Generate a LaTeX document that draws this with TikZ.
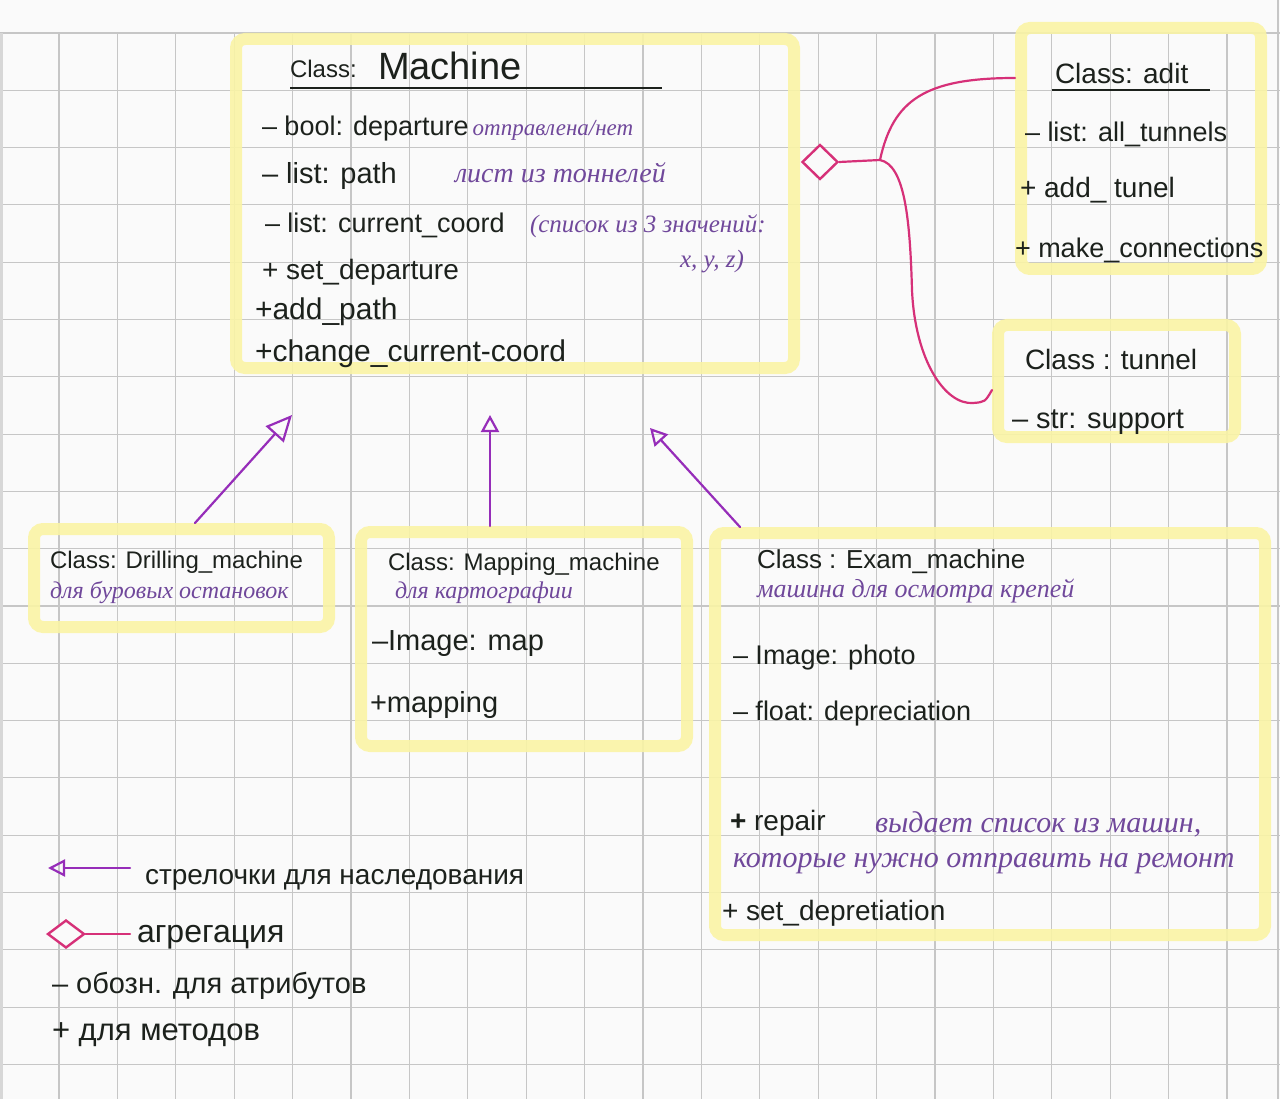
\documentclass[tikz,border=0pt]{standalone}
\usepackage{fontspec}
\setmainfont{Liberation Sans}
\newfontfamily\annf{Liberation Serif}
\usetikzlibrary{arrows.meta,shapes.geometric}
\definecolor{ink}{RGB}{28,33,28}
\definecolor{annc}{RGB}{112,72,155}
\definecolor{inhc}{RGB}{150,45,185}
\definecolor{aggc}{RGB}{214,48,120}
\definecolor{yel}{RGB}{250,244,165}
\definecolor{gridc}{RGB}{198,198,198}
\definecolor{bgc}{RGB}{250,250,250}
\newcommand\fs[1]{\fontsize{#1}{#1}\selectfont}
\begin{document}
\begin{tikzpicture}[x=1pt,y=-1pt,
  ybox/.style={draw=yel, line width=12pt, rounded corners=9pt, draw opacity=0.9, inner sep=0, rectangle},
  tx/.style={anchor=base west, inner sep=0, outer sep=0, text=ink, font=\fs{27}},
  hd/.style={tx, font=\fs{24}},
  an/.style={tx, text=annc, font=\annf\itshape\fs{24}},
  anb/.style={tx, text=annc, font=\annf\itshape\fs{30}},
  lg/.style={tx, font=\fs{28}},
  gridl/.style={draw=gridc, line width=1.1pt},
  inh/.style={draw=inhc, line width=2.2pt, line cap=round},
  aggl/.style={draw=aggc, line width=2.2pt, line cap=round},
  aggd/.style={diamond, draw=aggc, line width=2.4pt, inner sep=0, fill=bgc}
]
\useasboundingbox (0,0) rectangle (1280,1099);
\fill[bgc] (0,0) rectangle (1280,1099);
% grid
\foreach \k in {0,...,21} {\draw[gridl] ({0.6+58.4*\k},33) -- ({0.6+58.4*\k},1099);}
\draw[gridl] (1278,0) -- (1278,1099);
\foreach \j in {0,...,18} {\draw[gridl] (0,{33+57.3*\j}) -- (1280,{33+57.3*\j});}
\fill[gridc!70] (0,33) rectangle (3,1099);

% boxes
\node[ybox, minimum width=558pt, minimum height=329pt] (machine) at (515,203.5) {};
\node[ybox, minimum width=240pt, minimum height=241pt] (adit) at (1141,148.5) {};
\node[ybox, minimum width=237pt, minimum height=112pt] (tunnel) at (1116.5,381) {};
\node[ybox, minimum width=295pt, minimum height=98pt] (drill) at (181.5,578) {};
\node[ybox, minimum width=326pt, minimum height=214pt] (mapm) at (524,639) {};
\node[ybox, minimum width=550pt, minimum height=402pt] (exam) at (990,734) {};

% Machine
\node[hd] (m1) at (290,78) {Class:};
\node[tx, font=\fs{38}] (m2) at (378,80) {Machine};
\draw[ink, line width=1.6pt] (290,88) -- (662,88);
\node[tx] (m3) at (262,136) {– bool: departure};
\node[an, font=\annf\itshape\fs{23}, anchor=base west] (m4) at ([xshift=4pt]m3.base east) {отправлена/нет};
\node[tx, font=\fs{29}] (m5) at (262,184) {– list: path};
\node[an, font=\annf\itshape\fs{28}] (m6) at (455,183) {лист из тоннелей};
\node[tx] (m7) at (265,233) {– list: current\_coord};
\node[an, font=\annf\itshape\fs{25}] (m8) at (530,233) {(список из 3 значений:};
\node[an, font=\annf\itshape\fs{25}] (m9) at (680,268) {x, y, z)};
\node[tx, font=\fs{28}] (m10) at (262,280) {+ set\_departure};
\node[tx, font=\fs{30}] (m11) at (255,320) {+add\_path};
\node[tx, font=\fs{30}] (m12) at (255,362) {+change\_current-coord};

% adit
\node[tx, font=\fs{28}] (a1) at (1055,84) {Class: adit};
\draw[ink, line width=1.6pt] (1052,90) -- (1210,90);
\node[tx] (a2) at (1025,142) {– list: all\_tunnels};
\node[tx, font=\fs{28}] (a3) at (1020,198) {+ add\_ tunel};
\node[tx] (a4) at (1015,258) {+ make\_connections};

% tunnel
\node[tx, font=\fs{28}] (u1) at (1025,370) {Class : tunnel};
\node[tx, font=\fs{29}] (u2) at (1012,428) {– str: support};

% drilling
\node[hd] (d1) at (50,568) {Class: Drilling\_machine};
\node[an] (d2) at (50,598) {для буровых остановок};

% mapping
\node[hd] (p1) at (388,570) {Class: Mapping\_machine};
\node[an] (p2) at (395,598) {для картографии};
\node[tx, font=\fs{29}] (p3) at (372,650) {–Image: map};
\node[tx, font=\fs{29}] (p4) at (370,712) {+mapping};

% exam
\node[tx, font=\fs{26}] (e1) at (757,568) {Class : Exam\_machine};
\node[an, font=\annf\itshape\fs{26}] (e2) at (757,597) {машина для осмотра крепей};
\node[tx] (e3) at (733,664) {– Image: photo};
\node[tx] (e4) at (733,720) {– float: depreciation};
\node[tx, font=\fs{28}] (e5) at (730,830) {\textbf{+} repair};
\node[anb] (e6) at (875,832) {выдает список из машин,};
\node[anb] (e7) at (733,867) {которые нужно отправить на ремонт};
\node[tx, font=\fs{28}] (e8) at (722,920) {+ set\_depretiation};

% inheritance arrows
\coordinate (dH) at (292,415);
\coordinate (pH) at (490,415);
\coordinate (eH) at (650,428);
\draw[inh, -{Triangle[open, length=26pt, width=24pt, line width=2.2pt]}] ([xshift=13.5pt]drill.north) -- (dH);
\draw[inh, -{Triangle[open, length=17pt, width=18pt, line width=2.2pt]}] ([xshift=-34pt]mapm.north) -- (pH);
\draw[inh, -{Triangle[open, length=17pt, width=18pt, line width=2.2pt]}] ([xshift=-250pt]exam.north) -- (eH);

% aggregation
\node[aggd, minimum width=36pt, minimum height=35pt] (agg) at (820,162) {};
\coordinate (aggJ) at (880,160);
\draw[aggl] (agg.east) -- (aggJ) .. controls (893,100) and (925,78) .. ([yshift=70.5pt]adit.west);
\draw[aggl] (aggJ) .. controls (905,165) and (910,220) .. (912,290)
  .. controls (915,360) and (945,405) .. (973,403)
  .. controls (985,402) .. ([yshift=-9pt]tunnel.west);

% legend
\coordinate (lA) at (130,868);
\coordinate (lB) at (48,868);
\draw[inh, -{Triangle[open, length=17pt, width=17pt, line width=2.2pt]}] (lA) -- (lB);
\node[lg] (l1) at (145,884) {стрелочки для наследования};
\node[aggd, minimum width=37pt, minimum height=28pt] (lD) at (66,934) {};
\coordinate (lE) at (130,934);
\draw[aggl] (lD.east) -- (lE);
\node[lg, font=\fs{32}] (l2) at (137,942) {агрегация};
\node[lg, font=\fs{29}] (l3) at (52,993) {– обозн. для атрибутов};
\node[lg, font=\fs{31}] (l4) at (52,1040) {+ для методов};
\end{tikzpicture}
\end{document}
